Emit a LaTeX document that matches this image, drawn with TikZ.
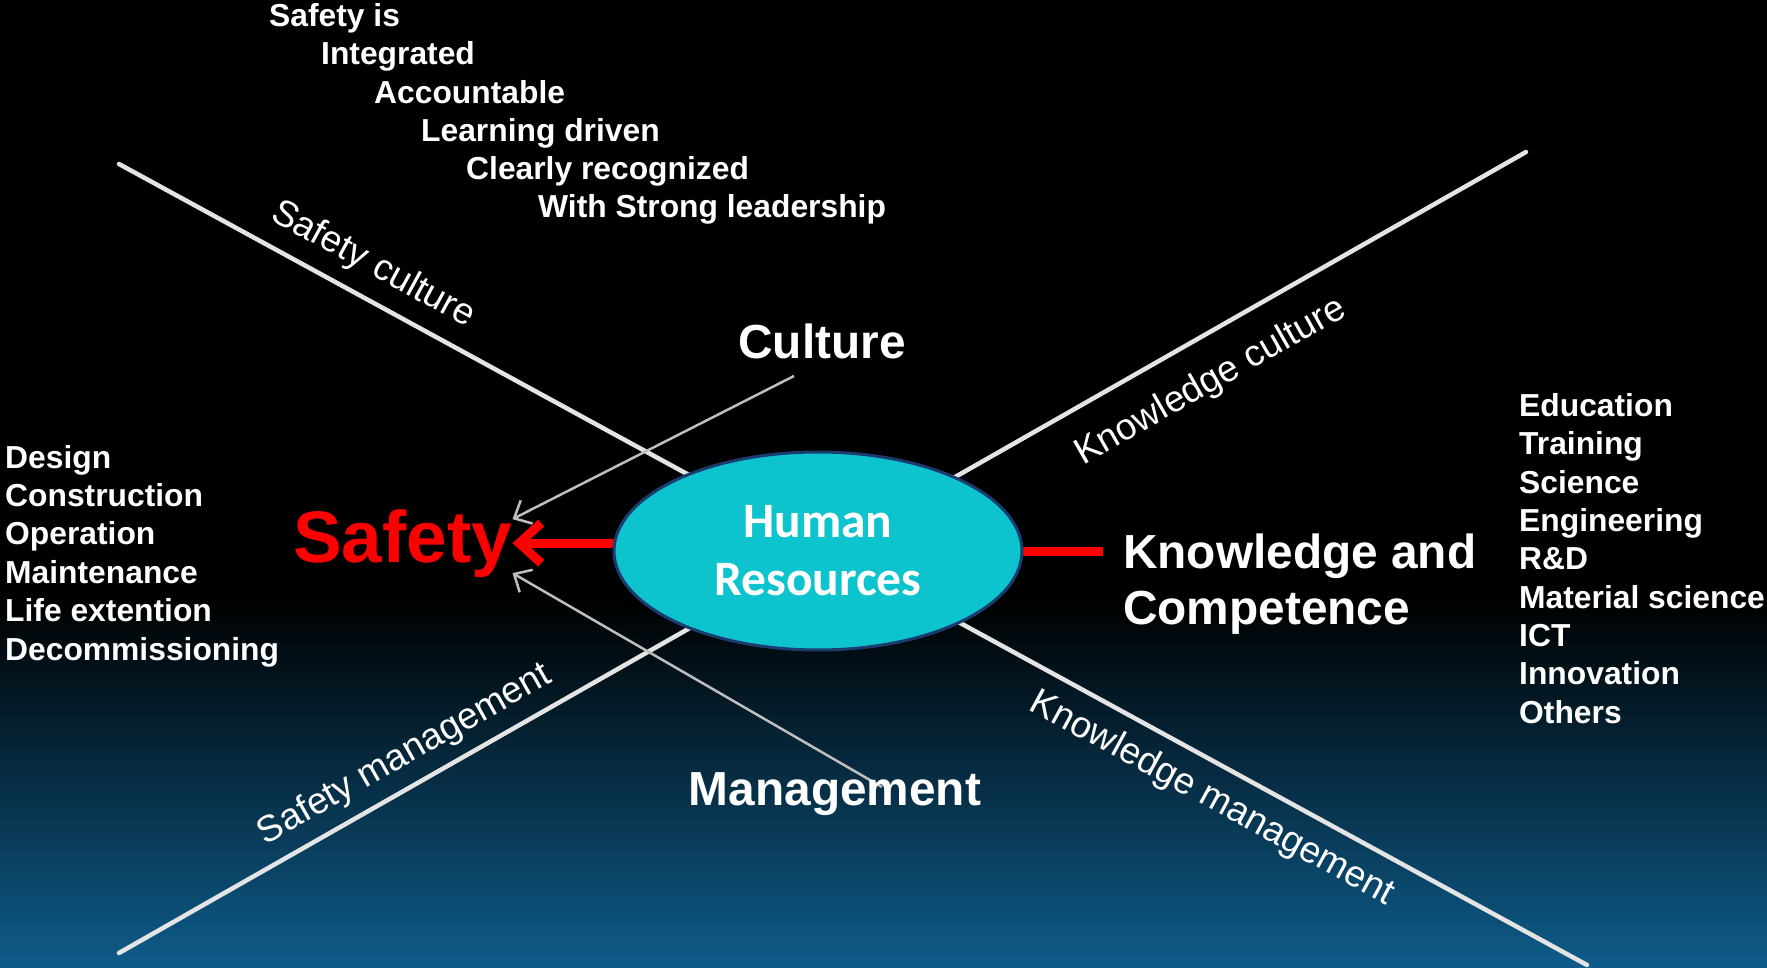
\documentclass[tikz,border=0pt]{standalone}
\usepackage{fontspec}
\setmainfont{Liberation Sans}
\newfontfamily\hrfont{Carlito}
\usetikzlibrary{arrows.meta,shapes.geometric}
\pgfdeclarelayer{bglayer}
\pgfdeclarelayer{linelayer}
\pgfsetlayers{bglayer,linelayer,main}
\definecolor{bluebot}{RGB}{14,92,138}
\definecolor{hrfill}{RGB}{13,196,206}
\definecolor{hrborder}{RGB}{26,60,110}
\definecolor{biglinecol}{RGB}{228,228,228}
\definecolor{arrowgray}{RGB}{190,190,190}
\definecolor{safetyred}{RGB}{255,0,0}
\begin{document}
\begin{tikzpicture}[x=1pt,y=-1pt,
  txt/.style={text=white, inner sep=0pt, font=\bfseries\fontsize{31.8}{37}\selectfont},
  bigtxt/.style={text=white, inner sep=0pt, font=\bfseries\fontsize{47.8}{56}\selectfont},
  axislabel/.style={text=white, inner sep=0pt, font=\fontsize{37}{44}\selectfont},
  bigline/.style={draw=biglinecol, line width=4.5pt, line cap=round},
  grayarrow/.style={draw=arrowgray, line width=2.5pt, -{Straight Barb[length=14pt,width=26pt]}},
  redarrow/.style={draw=safetyred, line width=9pt, -{Straight Barb[length=22pt,width=40pt]}},
  redline/.style={draw=safetyred, line width=9pt},
  hrnode/.style={ellipse, draw=hrborder, line width=3pt, fill=hrfill, minimum width=408pt,
    minimum height=198pt, inner sep=0pt, text=white, align=center,
    font=\hrfont\bfseries\fontsize{49.5}{58}\selectfont},
]
\useasboundingbox (0,0) rectangle (1767,968);
\begin{pgfonlayer}{bglayer}
\fill[black] (0,0) rectangle (1767,968);
\shade[top color=black, bottom color=bluebot] (0,600) rectangle (1767,968);
\end{pgfonlayer}

% axis end points
\coordinate (a1) at (119,164);
\coordinate (a2) at (1587,965);
\coordinate (b1) at (119,953);
\coordinate (b2) at (1526,152);
\coordinate (cs) at (794,376);
\coordinate (ms) at (882,787);

% central node
\node[hrnode] (hr) at (818,551) {Human\\Resources};

% main labels
\node[anchor=base west, inner sep=0pt, text=safetyred, font=\bfseries\fontsize{73}{80}\selectfont] (safety) at (293,562) {Safety};
\node[bigtxt, anchor=base] (culture) at (822,358) {Culture};
\node[bigtxt, anchor=base] (mgmt) at (835,805) {Management};
\node[bigtxt, anchor=base west] (kc1) at (1123,568) {Knowledge and};
\node[bigtxt, anchor=base west] (kc2) at (1123,624) {Competence};

% axis labels
\node[axislabel, rotate=-28.62] (lsc) at (373,265) {Safety culture};
\node[axislabel, rotate=29.65] (lkc) at (1211,382) {Knowledge culture};
\node[axislabel, rotate=29.65] (lsm) at (405,755) {Safety management};
\node[axislabel, rotate=-28.62] (lkm) at (1212,799) {Knowledge management};

% lists
\foreach \x/\y/\t [count=\i] in {269/27/Safety is, 321/65/Integrated, 374/103.5/Accountable,
    421/142/Learning driven, 466/180/Clearly recognized, 538/218/With Strong leadership}
  \node[txt, anchor=base west] (top\i) at (\x,\y) {\t};
\foreach \t [count=\i] in {Design,Construction,Operation,Maintenance,Life extention,Decommissioning}
  \node[txt, anchor=base west] (left\i) at (5,{468+38.4*(\i-1)}) {\t};
\foreach \t [count=\i] in {Education,Training,Science,Engineering,R\&D,Material science,ICT,Innovation,Others}
  \node[txt, anchor=base west] (right\i) at (1519,{416.6+38.3*(\i-1)}) {\t};

\begin{pgfonlayer}{linelayer}
\draw[bigline] (a1) -- (a2);
\draw[bigline] (b1) -- (b2);
\draw[redarrow] (hr.center |- safety.east) -- (safety.east);
\draw[redline] (hr.center) -- ([xshift=-20pt]kc1.west |- hr.center);
\draw[grayarrow] (cs) -- ([yshift=24pt]safety.east);
\draw[grayarrow] (ms) -- ([yshift=-30pt]safety.east);
\end{pgfonlayer}
\end{tikzpicture}
\end{document}
